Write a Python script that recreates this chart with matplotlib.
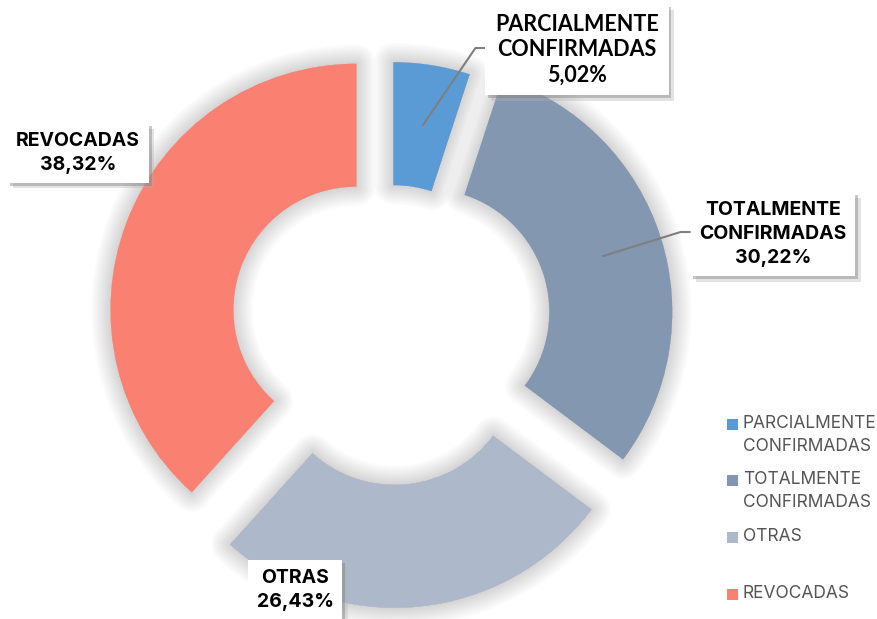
import numpy as np
import matplotlib
matplotlib.use("Agg")
import matplotlib.pyplot as plt
import matplotlib.patheffects as pe

# datos
categorias = ["PARCIALMENTE\nCONFIRMADAS", "TOTALMENTE\nCONFIRMADAS", "OTRAS", "REVOCADAS"]
porcentajes = [5.02, 30.22, 26.43, 38.32]
colores = ["#5B9BD5", "#8497B0", "#ADB9CA", "#FA8072"]
separacion = [15, 37, 39, 37]  # desplazamiento de cada sector (px)

W, H = 877, 619
CX, CY, R = 391, H - 323, 246

fig = plt.figure(figsize=(W / 100, H / 100), dpi=100)
ax = fig.add_axes([0, 0, 1, 1])
ax.set_xlim(0, W)
ax.set_ylim(0, H)
ax.set_aspect("equal")
ax.axis("off")

# sombra difusa alrededor de cada sector
sombra = [pe.Stroke(linewidth=w, foreground="black", alpha=0.011, joinstyle="round")
          for w in range(2, 30, 2)] + [pe.Normal()]

wedges, _ = ax.pie(porcentajes, colors=colores, explode=separacion, radius=R,
                   center=(CX, CY), startangle=90, counterclock=False,
                   wedgeprops=dict(width=R * 0.5, linewidth=0))
for w in wedges:
    w.set_path_effects(sombra)

ax.set_xlim(0, W)
ax.set_ylim(0, H)


def pt(x, y):
    return x, H - y


def ancla(w):
    # punto medio del anillo en el ángulo medio del sector
    ang = np.deg2rad((w.theta1 + w.theta2) / 2)
    r = w.r - w.width / 2
    return w.center[0] + r * np.cos(ang), w.center[1] + r * np.sin(ang)


sombra_caja = [pe.SimplePatchShadow(offset=(4, -4), shadow_rgbFace="#b0b0b0", alpha=0.35),
               pe.SimplePatchShadow(offset=(2, -2), shadow_rgbFace="#7a7a7a", alpha=0.4),
               pe.Normal()]

# etiquetas: (centro del texto, fuente, tamaño, interlineado, con línea guía)
etiquetas = [
    (pt(577, 50), "Lato", 15.5, 1.25, True),
    (pt(773, 234), "Inter", 14, 1.45, True),
    (pt(295, 590), "Inter", 14, 1.45, False),
    (pt(78, 153), "Inter", 14, 1.45, False),
]

for w, cat, p, (pos, fam, fs, ls, guia) in zip(wedges, categorias, porcentajes, etiquetas):
    txt = f"{cat}\n{p:.2f}%".replace(".", ",")
    t = ax.text(pos[0], pos[1], txt, ha="center", va="center", fontsize=fs,
                family=fam, fontweight="bold", color="black", linespacing=ls,
                zorder=10,
                bbox=dict(boxstyle="square,pad=0.45", facecolor="white", edgecolor="none"))
    t.get_bbox_patch().set_path_effects(sombra_caja)
    if guia:
        fig.canvas.draw()
        bb = t.get_bbox_patch().get_window_extent()
        x0 = bb.x0
        ax_, ay_ = ancla(w)
        ax.plot([ax_, x0 - 10, x0], [ay_, pos[1] + 2, pos[1] + 2], color="#7F7F7F",
                lw=1.5, zorder=9, solid_capstyle="butt")

# leyenda
ley_y = [424, 480, 537, 594]
for cat, col, y in zip(categorias, colores, ley_y):
    ax.add_patch(plt.Rectangle((727, H - y - 5.5), 11, 11, facecolor=col, edgecolor="none"))
    ax.text(743, H - y + 9, cat, ha="left", va="top", fontsize=12.5, family="Inter",
            color="#555555", linespacing=1.45)

fig.savefig("out.png", dpi=100)
